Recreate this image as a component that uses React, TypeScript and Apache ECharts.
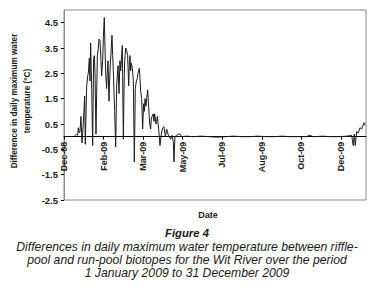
import React, { useEffect, useRef } from "react";
import * as echarts from "echarts";

// x = days from the first tick (Dec-08); y = difference (°C)
const days = [
  12.4, 14.0, 15.7, 16.9, 17.7, 19.0, 19.8, 21.0, 22.3, 23.9, 25.6, 26.4, 28.1, 29.3, 30.1, 31.4, 32.2, 33.0, 34.3, 35.5,
  36.7, 37.6, 38.4, 39.6, 41.3, 42.5, 43.3, 44.6, 45.8, 46.6, 47.9, 48.7, 49.9, 50.8, 51.6, 52.8, 53.7, 54.5, 55.7, 56.5,
  57.4, 58.2, 59.4, 60.3, 61.1, 61.9, 62.7, 64.0, 65.2, 66.0, 66.9, 68.1, 69.3, 70.2, 71.0, 72.2, 73.5, 74.3, 75.1, 76.4,
  77.6, 78.8, 80.1, 80.9, 81.7, 82.5, 83.4, 84.6, 85.9, 87.1, 88.3, 89.6, 90.8, 91.6, 93.3, 94.1, 94.9, 96.2, 97.4, 98.6,
  99.5, 100.3, 101.5, 102.4, 103.6, 104.8, 106.1, 107.3, 108.1, 109.0, 110.6, 111.4, 112.3, 113.9, 114.7, 115.6, 117.2, 118.9, 120.5, 122.2,
  123.8, 125.5, 127.1, 128.8, 130.4, 132.1, 133.7, 135.4, 136.2, 137.4, 139.5, 141.6, 143.6, 145.7, 152, 160, 170, 180, 190, 200,
  210, 220, 230, 240, 250, 260, 270, 280, 290, 300, 305, 308, 311, 320, 330, 340, 350, 356.2, 358.2, 359.5,
  360.7, 362.4, 364.4, 366.5, 368.6, 371.5, 373,
];
const diffs = [
  0.0, 0.05, 0.1, 0.05, 0.35, 0.15, 0.2, 0.8, -0.25, 0.5, 1.6, -0.3, 2.0, 2.4, 2.5, 3.1, 2.2, 3.7, 1.9, -0.35,
  3.1, 3.2, 2.5, 0.1, 3.2, 3.5, 3.85, 3.8, 3.0, 2.4, 3.0, 3.9, 4.7, 3.5, 2.5, 1.9, 2.6, 3.0, 1.4, 2.2,
  2.9, 3.3, 4.0, 3.2, 2.6, 1.8, 1.0, -0.4, 2.0, 2.4, 2.8, 1.7, 3.0, 2.6, 3.0, 3.6, -0.1, 1.8, 3.0, 3.5,
  3.4, 3.2, 2.0, 2.8, 3.2, 2.6, 2.9, 2.7, 2.2, -1.0, 1.9, 2.2, 2.3, 2.5, 2.7, 2.3, 1.8, 1.5, 0.3, 1.3,
  1.0, 1.5, 1.2, 1.5, 1.85, 1.2, 0.5, 0.3, 0.7, 0.8, 0.9, 0.6, 0.9, 0.5, 0.6, 0.8, 0.3, -0.35, 0.1, 0.35,
  0.4, 0.0, 0.3, 0.1, 0.0, -0.1, 0.05, -0.2, -1.0, 0.0, 0.05, 0.1, 0.1, 0.0, 0.02, 0.0, 0.02, 0.0, -0.02, 0.0,
  0.02, 0.0, 0.0, 0.02, 0.0, 0.0, 0.02, 0.0, 0.0, 0.0, 0.06, 0.0, 0.0, 0.02, 0.0, 0.0, 0.02, 0.05, -0.35, 0.1,
  -0.35, 0.2, 0.15, 0.35, 0.3, 0.55, 0.45,
];

const xTickValues = [0, 49, 98, 147, 196, 245, 294, 343];
const xTickLabels = ["Dec-08", "Feb-09", "Mar-09", "May-09", "Jul-09", "Aug-09", "Oct-09", "Dec-09"];

const yAxisTitle = "Difference in daily maximum water\ntemperature (°C)";
const xAxisTitle = "Date";
const figureTitle = "Figure 4";
const captionLines = [
  "Differences in daily maximum water temperature between riffle-",
  "pool and run-pool biotopes for the Wit River over the period",
  "1 January 2009 to 31 December 2009",
];

const FONT = "Liberation Sans, Arial, sans-serif";
const TXT = "#1a1a1a";
const Y_MIN = -2.5;
const Y_MAX = 5;
const GRID_H = 190;

export default function App() {
  const ref = useRef<HTMLDivElement>(null);
  useEffect(() => {
    document.body.style.margin = "0";
    const chart = echarts.init(ref.current!, null, { renderer: "svg" });
    const data = days.map((d, i) => [d, diffs[i]]);
    const zeroOffset = -((0 - Y_MIN) / (Y_MAX - Y_MIN)) * GRID_H;
    chart.setOption({
      animation: false,
      backgroundColor: "#ffffff",
      grid: {
        left: 64,
        top: 10,
        right: 8,
        height: GRID_H,
        show: true,
        borderColor: "#8a8a8a",
        borderWidth: 1,
        containLabel: false,
      },
      xAxis: {
        type: "value",
        min: 0,
        max: 374,
        offset: zeroOffset,
        axisLine: { onZero: false, lineStyle: { color: "#000", width: 1 } },
        axisTick: { show: true, length: 3, customValues: xTickValues, lineStyle: { color: "#000" } },
        axisLabel: {
          customValues: xTickValues,
          rotate: 90,
          margin: 5,
          fontFamily: FONT,
          fontSize: 9,
          fontWeight: "bold",
          color: TXT,
          formatter: (v: number) => {
            const i = xTickValues.indexOf(Math.round(v));
            return i >= 0 ? xTickLabels[i] : "";
          },
        },
        splitLine: { show: false },
      },
      yAxis: {
        type: "value",
        min: Y_MIN,
        max: Y_MAX,
        interval: 1,
        axisLine: { show: true, lineStyle: { color: "#8a8a8a" } },
        axisTick: { show: true, length: 3, lineStyle: { color: "#000" } },
        axisLabel: {
          margin: 6,
          fontFamily: FONT,
          fontSize: 9.5,
          fontWeight: "bold",
          color: TXT,
          showMaxLabel: false,
          formatter: (v: number) => (v > 4.9 ? "" : v.toFixed(1)),
        },
        splitLine: { show: false },
      },
      series: [
        {
          type: "line",
          data,
          showSymbol: false,
          symbol: "none",
          lineStyle: { color: "#1a1a1a", width: 1 },
        },
      ],
      graphic: [
        {
          type: "text",
          x: 21,
          y: 101,
          rotation: Math.PI / 2,
          style: {
            text: yAxisTitle,
            fontFamily: FONT,
            fontSize: 8.2,
            fontWeight: "bold",
            fill: TXT,
            align: "center",
            verticalAlign: "middle",
            lineHeight: 13,
          },
        },
        {
          type: "text",
          x: 208,
          y: 215,
          style: {
            text: xAxisTitle,
            fontFamily: FONT,
            fontSize: 9,
            fontWeight: "bold",
            fill: TXT,
            align: "center",
            verticalAlign: "middle",
          },
        },
        {
          type: "text",
          x: 187,
          y: 233,
          style: {
            text: figureTitle,
            fontFamily: FONT,
            fontSize: 11.3,
            fontWeight: "bold",
            fontStyle: "italic",
            fill: TXT,
            align: "center",
            verticalAlign: "middle",
          },
        },
        ...captionLines.map((t, i) => ({
          type: "text",
          x: 187,
          y: 247 + i * 13,
          style: {
            text: t,
            fontFamily: FONT,
            fontSize: 12.2,
            fontStyle: "italic",
            fill: TXT,
            align: "center",
            verticalAlign: "middle",
          },
        })),
      ],
    });
    return () => chart.dispose();
  }, []);
  return <div ref={ref} style={{ width: 374, height: 300 }} />;
}
